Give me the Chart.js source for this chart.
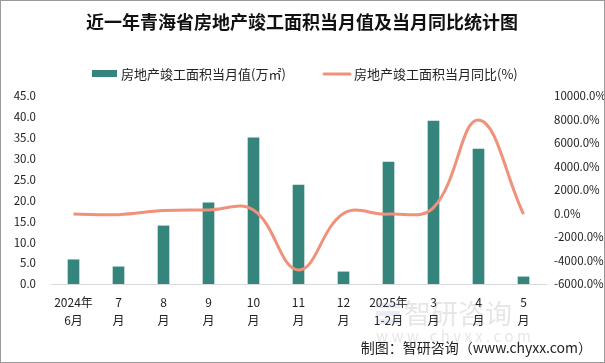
<!DOCTYPE html>
<html lang="zh">
<head>
<meta charset="UTF-8">
<title>近一年青海省房地产竣工面积当月值及当月同比统计图</title>
<script src="https://cdn.jsdelivr.net/npm/chart.js@4"></script>
<style>
  * { margin: 0; padding: 0; box-sizing: border-box; }
  body { width: 605px; height: 363px; background: #fff; overflow: hidden; }
  canvas { display: block; }
</style>
</head>
<body>
<canvas id="c" width="605" height="363"></canvas>
<script>
// ---------- data ----------
const months = [['2024年', '6月'], ['7', '月'], ['8', '月'], ['9', '月'], ['10', '月'], ['11', '月'],
  ['12', '月'], ['2025年', '1-2月'], ['3', '月'], ['4', '月'], ['5', '月']];
const areaValues = [5.8, 4.1, 13.9, 19.4, 35.0, 23.7, 2.9, 29.2, 39.0, 32.3, 1.7];
const yoyValues = [-50, -100, 250, 300, 300, -4800, 0, -50, 500, 7950, -50];

const leftTicks = { min: 0, max: 45, step: 5 };
const rightTicks = { min: -6000, max: 10000, step: 2000 };

const TITLE = '近一年青海省房地产竣工面积当月值及当月同比统计图';
const BAR_LABEL = '房地产竣工面积当月值(万㎡)';
const LINE_LABEL = '房地产竣工面积当月同比(%)';
const CREDIT = '制图：智研咨询（www.chyxx.com）';

const BAR_COLOR = '#35857d';
const LINE_COLOR = '#f0917a';
const FONT = '"Noto Sans CJK SC", "Microsoft YaHei", sans-serif';

// ---------- decorations: title, legend, credit, watermark, frame ----------
const decor = {
  id: 'decor',
  beforeDatasetsDraw(chart) {
    const ctx = chart.ctx;
    ctx.save();
    // faint watermark
    ctx.globalAlpha = 0.12;
    ctx.fillStyle = '#4a6a9a';
    ctx.fillRect(376, 303, 24, 5);
    ctx.fillRect(376, 311, 24, 5);
    ctx.fillRect(376, 319, 24, 5);
    ctx.font = '27px ' + FONT;
    ctx.textBaseline = 'middle';
    ctx.fillStyle = '#333';
    ctx.fillText('智研咨询', 404, 314);
    ctx.font = '15px ' + FONT;
    ctx.fillText('w w w . c h y x x . c o m', 376, 336);
    ctx.restore();
  },
  afterDraw(chart) {
    const ctx = chart.ctx;
    ctx.save();
    ctx.strokeStyle = '#9a9a9a';
    ctx.lineWidth = 1;
    ctx.strokeRect(0.5, 0.5, 604, 362);

    ctx.textBaseline = 'middle';
    ctx.fillStyle = '#111';
    ctx.font = 'bold 18px ' + FONT;
    ctx.textAlign = 'center';
    ctx.fillText(TITLE, 302, 22);

    ctx.font = '13px ' + FONT;
    ctx.textAlign = 'left';
    ctx.fillStyle = BAR_COLOR;
    ctx.fillRect(92, 70, 25, 7);
    ctx.fillStyle = '#222';
    ctx.fillText(BAR_LABEL, 121, 74);

    ctx.strokeStyle = LINE_COLOR;
    ctx.lineWidth = 3;
    ctx.lineCap = 'round';
    ctx.beginPath();
    ctx.moveTo(324, 74);
    ctx.lineTo(350, 74);
    ctx.stroke();
    ctx.fillText(LINE_LABEL, 354, 74);

    ctx.font = '14px ' + FONT;
    ctx.textAlign = 'right';
    ctx.fillText(CREDIT, 592, 348);
    ctx.restore();
  }
};

new Chart(document.getElementById('c'), {
  data: {
    labels: months,
    datasets: [
      {
        type: 'line',
        label: LINE_LABEL,
        data: yoyValues,
        yAxisID: 'y1',
        borderColor: LINE_COLOR,
        backgroundColor: LINE_COLOR,
        borderWidth: 3,
        pointRadius: 0,
        tension: 0.4,
        order: 0,
      },
      {
        type: 'bar',
        label: BAR_LABEL,
        data: areaValues,
        yAxisID: 'y',
        backgroundColor: BAR_COLOR,
        barThickness: 11,
        order: 1,
      },
    ],
  },
  options: {
    responsive: false,
    animation: false,
    devicePixelRatio: 1,
    layout: { padding: { top: 96, bottom: 0, left: 0, right: 0 } },
    plugins: { legend: { display: false }, title: { display: false }, tooltip: { enabled: false } },
    scales: {
      x: {
        grid: { display: false, drawTicks: false },
        border: { display: true, color: '#d9d9d9', width: 1 },
        ticks: { color: '#222', font: { family: FONT, size: 12, lineHeight: 1.5 }, padding: 9, maxRotation: 0, autoSkip: false },
        afterFit(s) { s.height = 79; },
      },
      y: {
        position: 'left',
        min: leftTicks.min, max: leftTicks.max,
        grid: { display: false, drawTicks: false },
        border: { display: false },
        ticks: { stepSize: leftTicks.step, color: '#222', padding: 15, font: { family: FONT, size: 11.5 },
          callback: v => v.toFixed(1) },
        afterFit(s) { s.width = 51; },
      },
      y1: {
        position: 'right',
        min: rightTicks.min, max: rightTicks.max,
        grid: { display: false, drawTicks: false },
        border: { display: false },
        ticks: { stepSize: rightTicks.step, color: '#222', padding: 8, font: { family: FONT, size: 11.5 },
          callback: v => v.toFixed(1) + '%' },
        afterFit(s) { s.width = 59; },
      },
    },
  },
  plugins: [decor],
});
</script>
</body>
</html>
